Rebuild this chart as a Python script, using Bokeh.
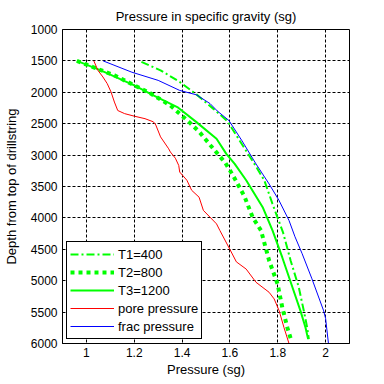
from bokeh.plotting import figure
from bokeh.models import FixedTicker, Legend, LegendItem, Range1d
from bokeh.embed import file_html
from bokeh.resources import INLINE

# ---- data ----
x_ticks = [1.0, 1.2, 1.4, 1.6, 1.8, 2.0]
x_tick_labels = ["1", "1.2", "1.4", "1.6", "1.8", "2"]
y_ticks = [1000, 1500, 2000, 2500, 3000, 3500, 4000, 4500, 5000, 5500, 6000]

t1_depth = [1515, 1650, 1835, 2037, 2260, 2460, 2766, 3138, 3404, 3777, 4230, 4681, 5106, 5479, 5745, 5930]
t1_press = [1.23, 1.31, 1.39, 1.461, 1.53, 1.59, 1.64, 1.702, 1.744, 1.778, 1.822, 1.854, 1.888, 1.909, 1.923, 1.93]

t2_depth = [1500, 1730, 2020, 2210, 2475, 2630, 2850, 3120, 3325, 3660, 3990, 4200, 4680, 5050, 5425, 5745, 5920]
t2_press = [0.96, 1.117, 1.269, 1.351, 1.43, 1.472, 1.52, 1.58, 1.613, 1.661, 1.695, 1.73, 1.764, 1.799, 1.819, 1.84, 1.854]

t3_depth = [1500, 1650, 1890, 2050, 2235, 2475, 2740, 2980, 3140, 3400, 3830, 4200, 4630, 5100, 5480, 5745, 5930]
t3_press = [0.96, 1.06, 1.2, 1.28, 1.38, 1.46, 1.544, 1.585, 1.62, 1.668, 1.737, 1.778, 1.819, 1.861, 1.895, 1.916, 1.927]

pore_depth = [1500, 1650, 1756, 1862, 1995, 2155, 2290, 2340, 2380, 2420, 2470, 2520, 2710, 2900, 2950, 3050,
              3165, 3270, 3400, 3560, 3670, 3880, 4095, 4200, 4495, 4700, 4815, 5025, 5185, 5290, 5480, 5745, 6000]
pore_press = [1.031, 1.048, 1.069, 1.087, 1.103, 1.117, 1.131, 1.16, 1.2, 1.245, 1.28, 1.29, 1.31, 1.344, 1.351, 1.372,
              1.386, 1.39, 1.42, 1.44, 1.471, 1.489, 1.544, 1.558, 1.599, 1.627, 1.668, 1.709, 1.764, 1.785, 1.806, 1.826, 1.847]

frac_depth = [1500, 1680, 1810, 1970, 2040, 2180, 2300, 2450, 2770, 3140, 3460, 3720, 4040, 4300, 4570, 4970, 5480, 5600, 6000]
frac_press = [1.07, 1.19, 1.30, 1.39, 1.46, 1.517, 1.548, 1.596, 1.65, 1.709, 1.764, 1.805, 1.847, 1.872, 1.902, 1.943, 1.992, 2.0, 2.012]

series_labels = ["T1=400", "T2=800", "T3=1200", "pore pressure", "frac pressure"]

FONT = "Liberation Sans"

p = figure(width=384, height=384,
           x_range=Range1d(0.9, 2.1), y_range=Range1d(6000, 1000),
           output_backend="svg", toolbar_location=None,
           title="Pressure in specific gravity (sg)",
           x_axis_label="Pressure (sg)",
           y_axis_label="Depth from top of drillstring",
           min_border_left=58, min_border_right=35,
           min_border_top=29, min_border_bottom=41)

p.background_fill_color = "white"
p.border_fill_color = "white"
p.outline_line_color = "black"
p.outline_line_width = 1
p.outline_line_alpha = 1

p.title.align = "center"
p.title.text_font = FONT
p.title.text_font_size = "13px"
p.title.text_font_style = "normal"
p.title.text_color = "black"
p.title.standoff = 12

p.xaxis.ticker = FixedTicker(ticks=x_ticks)
p.xaxis.major_label_overrides = {t: l for t, l in zip(x_ticks, x_tick_labels)}
p.yaxis.ticker = FixedTicker(ticks=y_ticks)

for ax in (p.xaxis[0], p.yaxis[0]):
    ax.major_label_text_font = FONT
    ax.major_label_text_font_size = "12px"
    ax.major_label_text_color = "black"
    ax.axis_label_text_font = FONT
    ax.axis_label_text_font_size = "13px"
    ax.axis_label_text_font_style = "normal"
    ax.axis_label_text_color = "black"
    ax.axis_line_color = "black"
    ax.major_tick_out = 0
    ax.major_tick_in = 0
    ax.minor_tick_out = 0
    ax.minor_tick_in = 0
    ax.major_label_standoff = 4
    ax.axis_label_standoff = 2

p.yaxis.major_label_standoff = 5
p.yaxis.axis_label_standoff = 9

for g in (p.xgrid[0], p.ygrid[0]):
    g.grid_line_color = "black"
    g.grid_line_alpha = 1
    g.grid_line_width = 1
    g.grid_line_dash = "3 2"
p.xgrid.ticker = FixedTicker(ticks=x_ticks)
p.ygrid.ticker = FixedTicker(ticks=y_ticks)

r1 = p.line(t1_press, t1_depth, line_color="#00ff00", line_width=2, line_dash="8 3 2 3")
r2 = p.line(t2_press, t2_depth, line_color="#00ff00", line_width=4, line_dash="4 4")
r3 = p.line(t3_press, t3_depth, line_color="#00ff00", line_width=2)
r4 = p.line(pore_press, pore_depth, line_color="#ff0000", line_width=1)
r5 = p.line(frac_press, frac_depth, line_color="#0000ff", line_width=1)

legend = Legend(items=[LegendItem(label=l, renderers=[r]) for l, r in zip(series_labels, [r1, r2, r3, r4, r5])],
                location="bottom_left")
legend.border_line_color = "black"
legend.border_line_width = 1
legend.border_line_alpha = 1
legend.background_fill_color = "white"
legend.background_fill_alpha = 1
legend.label_text_font = FONT
legend.label_text_font_size = "13px"
legend.label_text_color = "black"
legend.glyph_width = 44
legend.glyph_height = 18
legend.label_height = 18
legend.spacing = 0
legend.padding = 3
legend.margin = 4
legend.label_standoff = 4
p.add_layout(legend)

open("out.html", "w").write(file_html(p, INLINE))
